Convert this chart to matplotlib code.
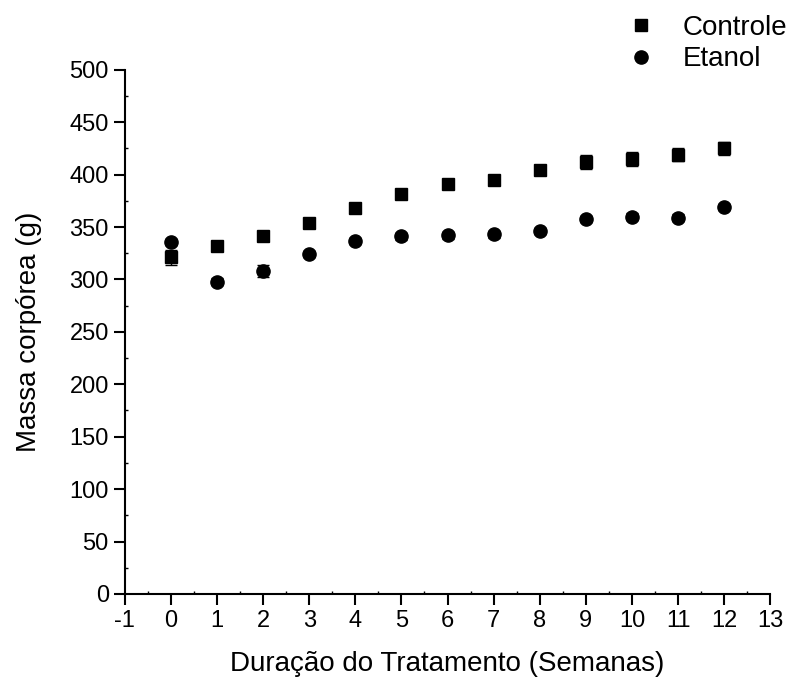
import matplotlib
matplotlib.use('Agg')

import matplotlib.pyplot as plt
from matplotlib import font_manager
from matplotlib.ticker import MultipleLocator, FuncFormatter

names = {f.name for f in font_manager.fontManager.ttflist}
narrow = 'Liberation Sans Narrow' if 'Liberation Sans Narrow' in names else 'Liberation Sans'
plt.rcParams['font.family'] = [narrow, 'DejaVu Sans']

semanas = list(range(13))
controle = [321, 332, 341, 354, 368, 382, 391, 395, 404, 412, 415, 419, 425]
controle_err = [7, 3, 3, 3, 3, 3, 3, 3, 3, 7, 7, 6, 6]
etanol = [336, 298, 308, 324, 337, 341, 342, 343, 346, 358, 360, 359, 369]
etanol_err = [3, 3, 6, 3, 3, 3, 3, 3, 3, 3, 3, 3, 3]

fig = plt.figure(figsize=(7.9, 6.78), dpi=100)
ax = fig.add_axes([0.158, 0.124, 0.817, 0.773])

ax.errorbar(semanas, controle, yerr=controle_err, fmt='s', color='black',
            markersize=8.5, capsize=4, elinewidth=1, capthick=1, label='Controle')
ax.errorbar(semanas, etanol, yerr=etanol_err, fmt='o', color='black',
            markersize=9.5, capsize=4, elinewidth=1, capthick=1, label='Etanol')

ax.set_xlim(-1, 13)
ax.set_ylim(0, 500)
ax.xaxis.set_major_locator(MultipleLocator(1))
ax.xaxis.set_minor_locator(MultipleLocator(0.5))
ax.yaxis.set_major_locator(MultipleLocator(50))
ax.yaxis.set_minor_locator(MultipleLocator(25))
ax.xaxis.set_major_formatter(FuncFormatter(lambda v, p: f'{v:.0f}'))
ax.yaxis.set_major_formatter(FuncFormatter(lambda v, p: f'{v:.0f}'))

for side in ('top', 'right'):
    ax.spines[side].set_visible(False)
for side in ('left', 'bottom'):
    ax.spines[side].set_linewidth(1.5)

ax.tick_params(which='major', direction='out', length=8, width=1.5,
               labelsize=17)
ax.tick_params(which='minor', direction='in', length=2, width=1)

ax.set_xlabel('Duração do Tratamento (Semanas)', fontsize=20, labelpad=14)
ax.set_ylabel('Massa corpórea (g)', fontsize=20, labelpad=20)

handles, labels = ax.get_legend_handles_labels()
handles = [h[0] for h in handles]
fig.legend(handles, labels, loc='upper right', bbox_to_anchor=(1.028, 1.015),
           frameon=False, fontsize=20, handletextpad=1.0, labelspacing=0.2,
           handlelength=1.0)

fig.savefig('out.png', dpi=100)
